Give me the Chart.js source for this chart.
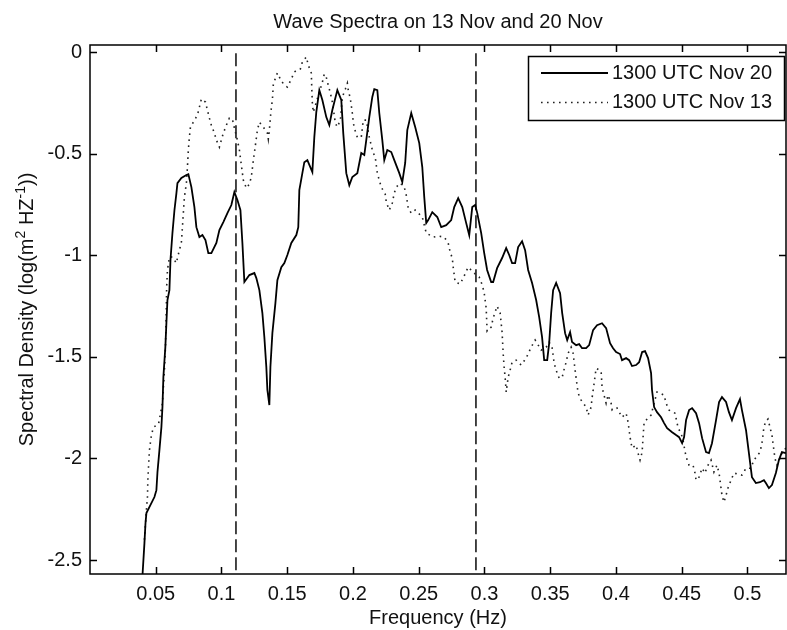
<!DOCTYPE html>
<html>
<head>
<meta charset="utf-8">
<script src="https://cdn.jsdelivr.net/npm/chart.js"></script>
<style>
  html, body { margin: 0; padding: 0; background: #fff; }
  #wrap { width: 787px; height: 630px; }
</style>
</head>
<body>
<div id="wrap"><canvas id="spectra" width="787" height="630"></canvas></div>
<script>
// Nov 20 spectrum (solid line)
const freq20 = [
  0.0395,0.0414,0.0422,0.0429,0.0490,0.0505,0.0513,0.0528,0.0543,0.0551,
  0.0558,0.0573,0.0581,0.0589,0.0604,0.0612,0.0627,0.0642,0.0657,0.0665,
  0.0695,0.0733,0.0748,0.0771,0.0794,0.0809,0.0832,0.0855,0.0878,0.0900,
  0.0923,0.0961,0.0984,0.1014,0.1045,0.1075,0.1098,0.1121,0.1144,0.1159,
  0.1174,0.1212,0.1250,0.1265,0.1288,0.1311,0.1326,0.1341,0.1349,0.1364,
  0.1372,0.1387,0.1410,0.1425,0.1455,0.1478,0.1501,0.1531,0.1569,0.1584,
  0.1592,0.1615,0.1630,0.1653,0.1691,0.1706,0.1721,0.1744,0.1767,0.1797,
  0.1820,0.1843,0.1881,0.1911,0.1926,0.1949,0.1972,0.1995,0.2033,0.2063,
  0.2086,0.2101,0.2124,0.2147,0.2162,0.2185,0.2200,0.2223,0.2238,0.2261,
  0.2291,0.2314,0.2352,0.2375,0.2397,0.2413,0.2443,0.2473,0.2504,0.2527,
  0.2542,0.2557,0.2572,0.2603,0.2641,0.2671,0.2709,0.2747,0.2770,0.2800,
  0.2831,0.2861,0.2884,0.2907,0.2929,0.2945,0.2975,0.2998,0.3020,0.3051,
  0.3066,0.3096,0.3134,0.3165,0.3188,0.3210,0.3233,0.3256,0.3286,0.3309,
  0.3332,0.3362,0.3393,0.3416,0.3438,0.3454,0.3477,0.3492,0.3507,0.3522,
  0.3545,0.3575,0.3591,0.3613,0.3629,0.3651,0.3666,0.3697,0.3720,0.3742,
  0.3773,0.3796,0.3826,0.3856,0.3894,0.3925,0.3955,0.3978,0.4001,0.4031,
  0.4046,0.4077,0.4100,0.4122,0.4153,0.4176,0.4199,0.4221,0.4244,0.4267,
  0.4274,0.4290,0.4312,0.4343,0.4366,0.4389,0.4427,0.4457,0.4480,0.4503,
  0.4518,0.4533,0.4556,0.4579,0.4609,0.4632,0.4655,0.4685,0.4707,0.4730,
  0.4761,0.4784,0.4806,0.4837,0.4859,0.4882,0.4913,0.4943,0.4958,0.4989,
  0.5011,0.5034,0.5064,0.5095,0.5125,0.5140,0.5163,0.5186,0.5216,0.5239,
  0.5262,0.5292
];
const spec20 = [
  -2.62,-2.417,-2.319,-2.269,-2.190,-2.156,-2.068,-1.959,-1.846,-1.747,
  -1.600,-1.452,-1.334,-1.220,-1.171,-1.023,-0.890,-0.779,-0.695,-0.644,
  -0.619,-0.604,-0.600,-0.664,-0.762,-0.861,-0.910,-0.900,-0.925,-0.989,
  -0.989,-0.939,-0.875,-0.836,-0.792,-0.752,-0.688,-0.727,-0.777,-0.939,
  -1.131,-1.097,-1.087,-1.112,-1.171,-1.284,-1.403,-1.550,-1.663,-1.737,
  -1.550,-1.383,-1.235,-1.122,-1.058,-1.038,-0.998,-0.939,-0.900,-0.861,
  -0.678,-0.595,-0.541,-0.531,-0.590,-0.417,-0.294,-0.186,-0.235,-0.319,
  -0.358,-0.284,-0.186,-0.235,-0.398,-0.595,-0.654,-0.614,-0.595,-0.496,
  -0.506,-0.432,-0.319,-0.220,-0.181,-0.186,-0.299,-0.432,-0.531,-0.481,
  -0.491,-0.531,-0.595,-0.639,-0.545,-0.383,-0.299,-0.368,-0.447,-0.565,
  -0.713,-0.841,-0.826,-0.787,-0.811,-0.861,-0.851,-0.826,-0.762,-0.718,
  -0.762,-0.841,-0.900,-0.762,-0.752,-0.792,-0.890,-0.989,-1.072,-1.131,
  -1.131,-1.063,-1.013,-0.964,-0.998,-1.038,-1.038,-0.959,-0.930,-0.974,
  -1.072,-1.136,-1.220,-1.304,-1.403,-1.516,-1.516,-1.432,-1.284,-1.171,
  -1.136,-1.186,-1.284,-1.383,-1.417,-1.378,-1.427,-1.442,-1.437,-1.457,
  -1.457,-1.442,-1.368,-1.344,-1.334,-1.358,-1.432,-1.457,-1.476,-1.486,
  -1.516,-1.506,-1.516,-1.545,-1.540,-1.526,-1.476,-1.471,-1.506,-1.580,
  -1.663,-1.747,-1.772,-1.797,-1.826,-1.851,-1.871,-1.885,-1.895,-1.925,
  -1.895,-1.811,-1.762,-1.752,-1.777,-1.826,-1.900,-1.969,-1.974,-1.925,
  -1.811,-1.722,-1.698,-1.722,-1.772,-1.811,-1.752,-1.708,-1.762,-1.861,
  -1.974,-2.092,-2.121,-2.117,-2.107,-2.121,-2.146,-2.131,-2.072,-2.008,
  -1.969,-1.974
];

// Nov 13 spectrum (dotted line)
const freq13 = [
  0.0414,0.0429,0.0437,0.0440,0.0445,0.0452,0.0467,0.0483,0.0521,0.0551,
  0.0566,0.0574,0.0579,0.0583,0.0589,0.0604,0.0627,0.0657,0.0665,0.0680,
  0.0695,0.0703,0.0710,0.0718,0.0733,0.0741,0.0748,0.0756,0.0764,0.0786,
  0.0817,0.0832,0.0847,0.0878,0.0893,0.0908,0.0923,0.0946,0.0961,0.0984,
  0.0999,0.1014,0.1037,0.1060,0.1083,0.1098,0.1121,0.1136,0.1151,0.1159,
  0.1166,0.1189,0.1212,0.1227,0.1235,0.1242,0.1250,0.1258,0.1265,0.1273,
  0.1288,0.1318,0.1349,0.1356,0.1364,0.1372,0.1379,0.1387,0.1394,0.1410,
  0.1425,0.1455,0.1478,0.1501,0.1531,0.1554,0.1577,0.1600,0.1615,0.1645,
  0.1660,0.1683,0.1687,0.1691,0.1698,0.1767,0.1782,0.1797,0.1812,0.1828,
  0.1843,0.1866,0.1881,0.1904,0.1919,0.1942,0.1957,0.1964,0.1979,0.1987,
  0.1995,0.2002,0.2010,0.2033,0.2063,0.2078,0.2101,0.2124,0.2147,0.2170,
  0.2185,0.2215,0.2245,0.2253,0.2276,0.2299,0.2314,0.2329,0.2359,0.2390,
  0.2405,0.2420,0.2443,0.2473,0.2527,0.2557,0.2610,0.2648,0.2694,0.2724,
  0.2739,0.2755,0.2762,0.2770,0.2777,0.2815,0.2845,0.2876,0.2922,0.2960,
  0.2983,0.2998,0.3013,0.3020,0.3051,0.3066,0.3096,0.3119,0.3134,0.3142,
  0.3150,0.3157,0.3165,0.3180,0.3195,0.3210,0.3241,0.3279,0.3317,0.3355,
  0.3385,0.3400,0.3431,0.3469,0.3492,0.3515,0.3530,0.3545,0.3568,0.3591,
  0.3606,0.3621,0.3636,0.3659,0.3674,0.3682,0.3697,0.3712,0.3735,0.3773,
  0.3788,0.3811,0.3818,0.3834,0.3849,0.3887,0.3894,0.3909,0.3925,0.3940,
  0.3963,0.3971,0.4008,0.4046,0.4077,0.4092,0.4107,0.4122,0.4153,0.4168,
  0.4183,0.4199,0.4206,0.4214,0.4267,0.4312,0.4366,0.4381,0.4404,0.4449,
  0.4473,0.4495,0.4510,0.4526,0.4541,0.4556,0.4586,0.4601,0.4609,0.4632,
  0.4655,0.4677,0.4692,0.4723,0.4745,0.4768,0.4784,0.4791,0.4799,0.4806,
  0.4821,0.4837,0.4852,0.4875,0.4897,0.4958,0.4989,0.5026,0.5049,0.5095,
  0.5110,0.5118,0.5125,0.5140,0.5156,0.5171,0.5186,0.5194,0.5201,0.5209,
  0.5224,0.5262,0.5292
];
const spec13 = [
  -2.40,-2.255,-2.190,-2.106,-2.042,-1.959,-1.885,-1.846,-1.831,-1.728,
  -1.565,-1.452,-1.304,-1.156,-1.072,-1.008,-1.008,-1.038,-1.013,-0.974,
  -0.935,-0.861,-0.792,-0.713,-0.644,-0.565,-0.481,-0.417,-0.368,-0.344,
  -0.309,-0.270,-0.230,-0.245,-0.285,-0.324,-0.359,-0.398,-0.432,-0.467,
  -0.432,-0.398,-0.359,-0.324,-0.329,-0.373,-0.432,-0.481,-0.555,-0.595,
  -0.629,-0.669,-0.649,-0.614,-0.570,-0.531,-0.496,-0.457,-0.422,-0.383,
  -0.344,-0.368,-0.398,-0.427,-0.383,-0.319,-0.275,-0.235,-0.161,-0.127,
  -0.102,-0.141,-0.161,-0.171,-0.132,-0.097,-0.087,-0.082,-0.048,-0.023,
  -0.063,-0.102,-0.186,-0.250,-0.295,-0.147,-0.107,-0.123,-0.162,-0.201,
  -0.245,-0.349,-0.368,-0.334,-0.221,-0.181,-0.152,-0.186,-0.226,-0.260,
  -0.300,-0.344,-0.373,-0.418,-0.418,-0.334,-0.334,-0.418,-0.481,-0.521,
  -0.595,-0.664,-0.698,-0.737,-0.777,-0.742,-0.693,-0.664,-0.644,-0.664,
  -0.703,-0.767,-0.792,-0.777,-0.811,-0.890,-0.910,-0.905,-0.910,-0.939,
  -0.984,-1.013,-1.058,-1.097,-1.131,-1.141,-1.102,-1.058,-1.087,-1.107,
  -1.146,-1.186,-1.260,-1.373,-1.353,-1.309,-1.250,-1.284,-1.378,-1.482,
  -1.556,-1.600,-1.673,-1.600,-1.565,-1.526,-1.516,-1.540,-1.506,-1.452,
  -1.417,-1.432,-1.467,-1.452,-1.427,-1.457,-1.531,-1.565,-1.605,-1.600,
  -1.560,-1.526,-1.482,-1.452,-1.482,-1.526,-1.605,-1.678,-1.713,-1.747,
  -1.786,-1.747,-1.703,-1.629,-1.556,-1.570,-1.649,-1.688,-1.728,-1.688,
  -1.728,-1.762,-1.752,-1.797,-1.777,-1.821,-1.895,-1.949,-1.934,-1.974,
  -2.008,-1.969,-1.895,-1.821,-1.786,-1.673,-1.688,-1.728,-1.762,-1.777,
  -1.851,-1.876,-1.910,-1.969,-2.008,-2.033,-2.033,-2.072,-2.107,-2.092,
  -2.048,-2.072,-2.042,-2.008,-2.067,-2.033,-2.072,-2.107,-2.146,-2.181,
  -2.215,-2.181,-2.146,-2.107,-2.072,-2.082,-2.048,-2.048,-2.008,-1.969,
  -1.925,-1.885,-1.846,-1.816,-1.806,-1.846,-1.885,-1.925,-1.959,-1.999,
  -2.033,-1.974,-1.949
];

// band limits marked with dashed lines
const cutoffFreqs = [0.111, 0.2935];
const cutoffRange = [-2.55, 0];

const xTicks = [0.05, 0.1, 0.15, 0.2, 0.25, 0.3, 0.35, 0.4, 0.45, 0.5];
const yTicks = [-2.5, -2, -1.5, -1, -0.5, 0];
const seriesLabels = ['1300 UTC Nov 20', '1300 UTC Nov 13'];

const FONT = '"Liberation Sans", Arial, sans-serif';
const toPoints = (xs, ys) => xs.map((x, i) => ({x: x, y: ys[i]}));

Chart.defaults.font.family = FONT;
Chart.defaults.font.size = 20;
Chart.defaults.color = '#111';

// box around the axes, ticks pointing inward on all four sides
const axesBox = {
  id: 'axesBox',
  afterDraw(chart) {
    const {ctx, chartArea: a, scales: {x, y}} = chart;
    ctx.save();
    ctx.strokeStyle = '#000';
    ctx.lineWidth = 1.5;
    ctx.strokeRect(a.left, a.top, a.right - a.left, a.bottom - a.top);
    ctx.beginPath();
    x.ticks.forEach(t => {
      const px = Math.round(x.getPixelForValue(t.value)) + 0.5;
      ctx.moveTo(px, a.bottom); ctx.lineTo(px, a.bottom - 7);
      ctx.moveTo(px, a.top); ctx.lineTo(px, a.top + 7);
    });
    y.ticks.forEach(t => {
      const py = Math.round(y.getPixelForValue(t.value)) + 0.5;
      ctx.moveTo(a.left, py); ctx.lineTo(a.left + 7, py);
      ctx.moveTo(a.right, py); ctx.lineTo(a.right - 7, py);
    });
    ctx.stroke();
    ctx.restore();
  }
};

// y axis title with real superscripts
const yTitle = {
  id: 'yTitle',
  afterDraw(chart) {
    const {ctx, chartArea: a} = chart;
    const parts = [
      ['Spectral Density (log(m', 20, 0],
      ['2', 14, -8],
      [' HZ', 20, 0],
      ['-1', 14, -8],
      ['))', 20, 0]
    ];
    ctx.save();
    ctx.translate(26, (a.top + a.bottom) / 2);
    ctx.rotate(-Math.PI / 2);
    ctx.fillStyle = '#111';
    ctx.textBaseline = 'alphabetic';
    let total = 0;
    parts.forEach(([t, s]) => { ctx.font = s + 'px ' + FONT; total += ctx.measureText(t).width; });
    let px = -total / 2;
    parts.forEach(([t, s, dy]) => {
      ctx.font = s + 'px ' + FONT;
      ctx.fillText(t, px, 7 + dy);
      px += ctx.measureText(t).width;
    });
    ctx.restore();
  }
};

// boxed legend in the upper right corner
const boxLegend = {
  id: 'boxLegend',
  afterDraw(chart) {
    const {ctx} = chart;
    const items = chart.data.datasets.filter(d => d.inLegend);
    ctx.save();
    ctx.fillStyle = '#fff';
    ctx.fillRect(528, 56, 257, 65);
    ctx.strokeStyle = '#000';
    ctx.lineWidth = 1.5;
    ctx.strokeRect(528.5, 56.5, 256, 64);
    items.forEach((d, i) => {
      const ly = 73 + i * 29.5;
      ctx.beginPath();
      ctx.setLineDash(d.borderDash || []);
      ctx.strokeStyle = d.borderColor;
      ctx.lineWidth = d.borderWidth;
      ctx.moveTo(541, ly);
      ctx.lineTo(608, ly);
      ctx.stroke();
      ctx.setLineDash([]);
      ctx.fillStyle = '#111';
      ctx.font = '20px ' + FONT;
      ctx.textAlign = 'left';
      ctx.textBaseline = 'middle';
      ctx.fillText(d.label, 612, ly);
    });
    ctx.restore();
  }
};

const cutoffSets = cutoffFreqs.map(f => ({
  label: 'cutoff ' + f,
  data: cutoffRange.map(v => ({x: f, y: v})),
  borderColor: '#333',
  borderWidth: 1.8,
  borderDash: [13, 5],
  pointRadius: 0
}));

new Chart(document.getElementById('spectra').getContext('2d'), {
  type: 'line',
  data: {
    datasets: [
      {
        label: seriesLabels[0],
        inLegend: true,
        data: toPoints(freq20, spec20),
        borderColor: '#000',
        borderWidth: 1.8,
        pointRadius: 0,
        tension: 0
      },
      {
        label: seriesLabels[1],
        inLegend: true,
        data: toPoints(freq13, spec13),
        borderColor: '#222',
        borderWidth: 1.6,
        borderDash: [1.6, 4.4],
        pointRadius: 0,
        tension: 0
      },
      ...cutoffSets
    ]
  },
  options: {
    responsive: false,
    animation: false,
    events: [],
    layout: { padding: { right: 1 } },
    plugins: {
      legend: { display: false },
      tooltip: { enabled: false },
      title: {
        display: true,
        text: 'Wave Spectra on 13 Nov and 20 Nov',
        fullSize: false,
        color: '#111',
        font: { size: 20, weight: 'normal' },
        padding: { top: 10, bottom: 11 }
      }
    },
    scales: {
      x: {
        type: 'linear',
        min: 0,
        max: 0.5293,
        afterBuildTicks: s => { s.ticks = xTicks.map(v => ({value: v})); },
        afterFit: s => { s.height = 56; },
        ticks: { padding: 8, autoSkip: false, maxRotation: 0, callback: v => String(v) },
        grid: { display: false, drawTicks: false },
        border: { display: false },
        title: { display: true, text: 'Frequency (Hz)', padding: { top: 0, bottom: 0 } }
      },
      y: {
        type: 'linear',
        min: -2.569,
        max: 0.036,
        afterBuildTicks: s => { s.ticks = yTicks.map(v => ({value: v})); },
        afterFit: s => { s.width = 90; },
        ticks: { padding: 8, autoSkip: false, callback: v => String(v) },
        grid: { display: false, drawTicks: false },
        border: { display: false }
      }
    }
  },
  plugins: [axesBox, yTitle, boxLegend]
});
</script>
</body>
</html>
